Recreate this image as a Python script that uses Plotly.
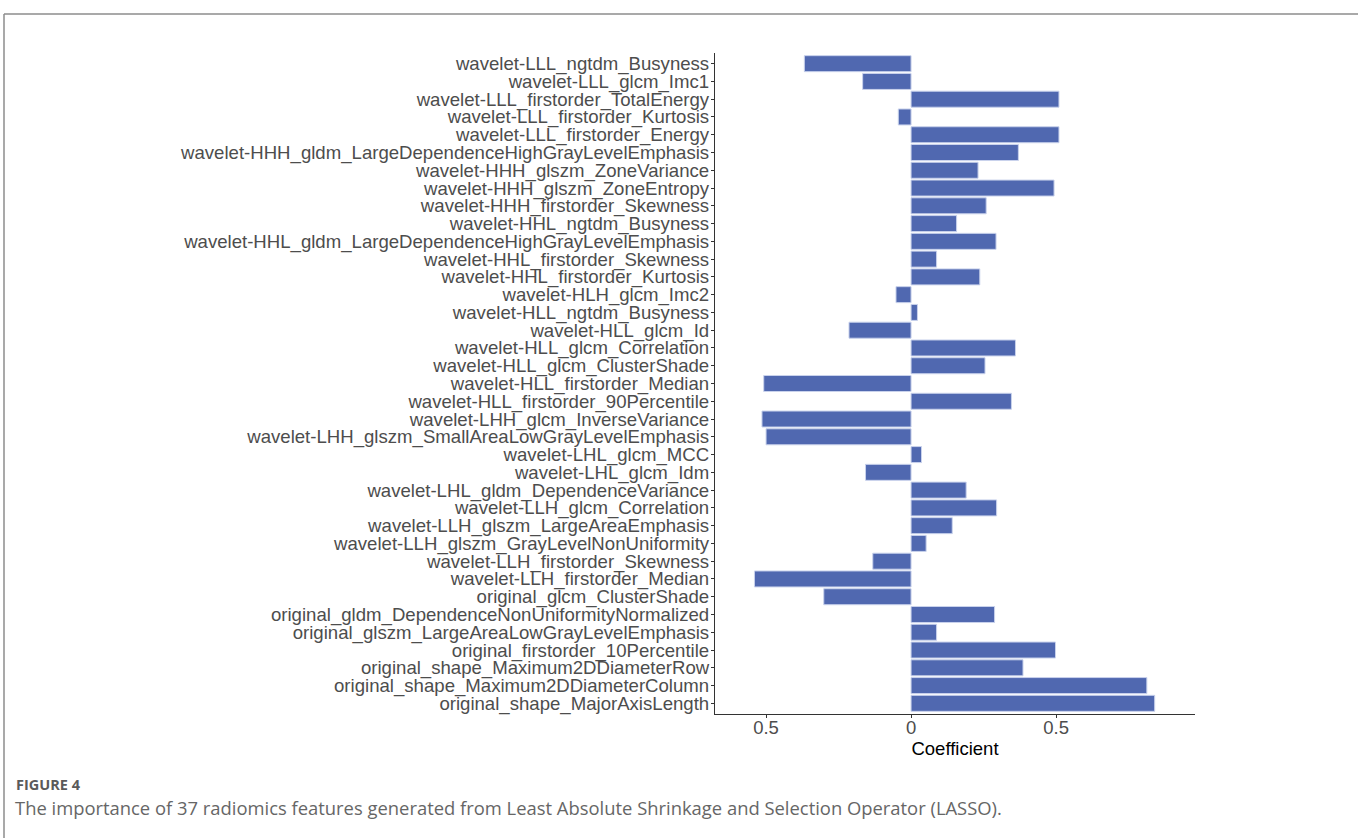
import plotly.graph_objects as go

features = [
    "wavelet-LLL_ngtdm_Busyness",
    "wavelet-LLL_glcm_Imc1",
    "wavelet-LLL_firstorder_TotalEnergy",
    "wavelet-LLL_firstorder_Kurtosis",
    "wavelet-LLL_firstorder_Energy",
    "wavelet-HHH_gldm_LargeDependenceHighGrayLevelEmphasis",
    "wavelet-HHH_glszm_ZoneVariance",
    "wavelet-HHH_glszm_ZoneEntropy",
    "wavelet-HHH_firstorder_Skewness",
    "wavelet-HHL_ngtdm_Busyness",
    "wavelet-HHL_gldm_LargeDependenceHighGrayLevelEmphasis",
    "wavelet-HHL_firstorder_Skewness",
    "wavelet-HHL_firstorder_Kurtosis",
    "wavelet-HLH_glcm_Imc2",
    "wavelet-HLL_ngtdm_Busyness",
    "wavelet-HLL_glcm_Id",
    "wavelet-HLL_glcm_Correlation",
    "wavelet-HLL_glcm_ClusterShade",
    "wavelet-HLL_firstorder_Median",
    "wavelet-HLL_firstorder_90Percentile",
    "wavelet-LHH_glcm_InverseVariance",
    "wavelet-LHH_glszm_SmallAreaLowGrayLevelEmphasis",
    "wavelet-LHL_glcm_MCC",
    "wavelet-LHL_glcm_Idm",
    "wavelet-LHL_gldm_DependenceVariance",
    "wavelet-LLH_glcm_Correlation",
    "wavelet-LLH_glszm_LargeAreaEmphasis",
    "wavelet-LLH_glszm_GrayLevelNonUniformity",
    "wavelet-LLH_firstorder_Skewness",
    "wavelet-LLH_firstorder_Median",
    "original_glcm_ClusterShade",
    "original_gldm_DependenceNonUniformityNormalized",
    "original_glszm_LargeAreaLowGrayLevelEmphasis",
    "original_firstorder_10Percentile",
    "original_shape_Maximum2DDiameterRow",
    "original_shape_Maximum2DDiameterColumn",
    "original_shape_MajorAxisLength",
]

coefficients = [
    -0.368, -0.167, 0.510, -0.044, 0.510, 0.370, 0.231, 0.493, 0.259, 0.157,
    0.293, 0.088, 0.237, -0.052, 0.022, -0.214, 0.360, 0.255, -0.508, 0.346,
    -0.514, -0.500, 0.036, -0.157, 0.190, 0.295, 0.142, 0.052, -0.132, -0.540,
    -0.301, 0.288, 0.088, 0.498, 0.386, 0.813, 0.840,
]

tick_vals = [-0.5, 0, 0.5]
tick_text = ["0.5", "0", "0.5"]

# plot-area geometry in pixels
W, H = 1358, 838
L, R, T, B = 715, 1195, 53, 714


def px(x):
    return (x - L) / (R - L)


def py(y):
    return (B - y) / (B - T)


fig = go.Figure(
    go.Bar(
        x=coefficients,
        y=features,
        orientation="h",
        width=0.9,
        marker=dict(color="#5068b0", line=dict(color="#c9d2ec", width=1)),
    )
)

fig.update_layout(
    width=W,
    height=H,
    margin=dict(l=L, r=W - R, t=T, b=H - B, autoexpand=False),
    plot_bgcolor="white",
    paper_bgcolor="white",
    showlegend=False,
    font=dict(family="Liberation Sans, Arial, sans-serif", color="#4d4d4d"),
)

fig.update_xaxes(
    range=[-0.676, 0.979],
    tickvals=tick_vals,
    ticktext=tick_text,
    showgrid=False,
    zeroline=False,
    showline=True,
    linecolor="#333333",
    linewidth=1.2,
    ticks="outside",
    ticklen=3,
    tickcolor="#333333",
    ticklabelstandoff=-6,
    tickfont=dict(size=18.5, color="#4d4d4d"),
    title=dict(text="Coefficient", font=dict(size=18.5, color="black"), standoff=0),
)

fig.update_yaxes(
    categoryorder="array",
    categoryarray=features[::-1],
    tickmode="array",
    tickvals=features,
    ticktext=features,
    range=[-0.6, len(features) - 0.4],
    showgrid=False,
    zeroline=False,
    showline=True,
    linecolor="#333333",
    linewidth=1.2,
    ticks="outside",
    ticklen=3,
    tickcolor="#333333",
    ticklabelstandoff=-2,
    tickfont=dict(size=18.6, color="#4d4d4d"),
)

# figure frame (top and left lines)
fig.add_shape(type="line", xref="paper", yref="paper",
              x0=px(4), x1=px(W + 5), y0=py(14), y1=py(14),
              line=dict(color="#8c8c8c", width=1.5))
fig.add_shape(type="line", xref="paper", yref="paper",
              x0=px(4), x1=px(4), y0=py(14), y1=py(H + 5),
              line=dict(color="#8c8c8c", width=1.5))

fig.add_annotation(xref="paper", yref="paper", x=px(14), y=py(784),
                   xanchor="left", yanchor="middle", showarrow=False,
                   text="<b>FIGURE 4</b>",
                   font=dict(family="Open Sans", size=14.5, color="#5a5a5a"))
fig.add_annotation(xref="paper", yref="paper", x=px(13), y=py(807),
                   xanchor="left", yanchor="middle", showarrow=False,
                   text="The importance of 37 radiomics features generated from Least Absolute Shrinkage and Selection Operator (LASSO).",
                   font=dict(family="Open Sans", size=18.4, color="#666666"))

fig.write_html("out.html", config={"displayModeBar": False},
               post_script="document.body.style.margin='0';")
